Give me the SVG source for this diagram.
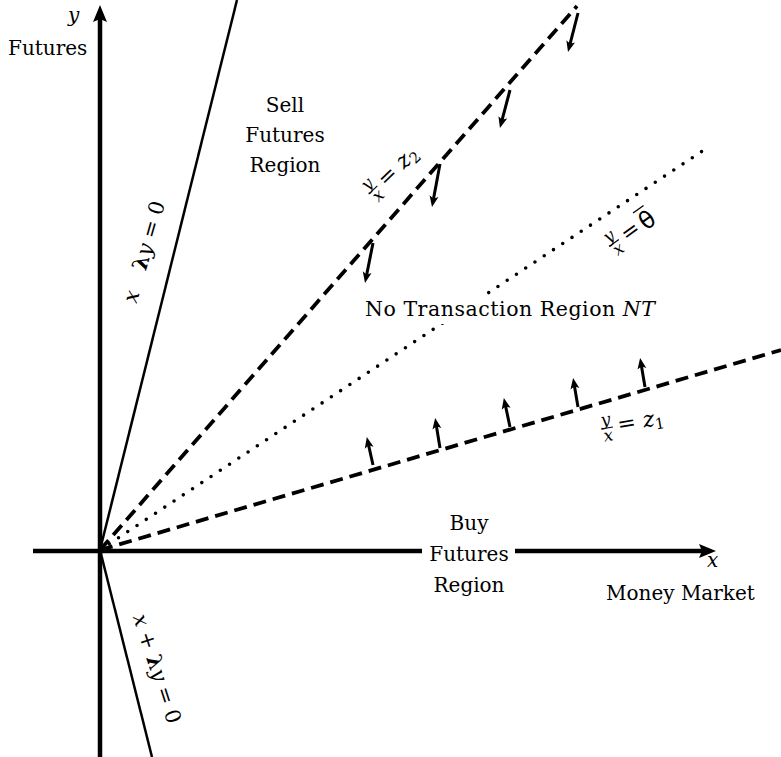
<svg xmlns="http://www.w3.org/2000/svg" width="781" height="757" viewBox="0 0 781 757">
<style>
text{font-family:"DejaVu Serif","Liberation Serif",serif;font-size:20px;fill:#000}
.it{font-style:italic}
.c{text-anchor:middle}
.ax{stroke:#000;stroke-width:4.5;fill:none}
.sol{stroke:#000;stroke-width:2.5;fill:none}
.dash{stroke:#000;stroke-width:3.8;fill:none;stroke-dasharray:13 7}
.dot{stroke:#000;stroke-width:3.6;fill:none;stroke-dasharray:0 11.1;stroke-linecap:round}
.arr{stroke:#000;stroke-width:3;fill:none;marker-end:url(#ah)}
.fr{font-size:17px;font-style:italic}
.eq{font-size:22px}
.bar{stroke:#000;stroke-width:1.1}
</style>
<defs>
<marker id="ah" markerUnits="userSpaceOnUse" markerWidth="12" markerHeight="10" refX="5" refY="4.5" orient="auto" viewBox="0 0 12 9">
<path d="M0,0 L11,4.5 L0,9 L2.5,4.5 Z" fill="#000"/>
</marker>
</defs>
<rect width="781" height="757" fill="#fff"/>
<g id="connectors">
<line class="ax" x1="100" y1="757" x2="100" y2="18"/>
<path d="M100,5 L107,22 L100,19 L93,22 Z" fill="#000"/>
<line class="ax" x1="33" y1="551" x2="702" y2="551"/>
<path d="M716,551 L699,544 L702,551 L699,558 Z" fill="#000"/>
<line class="sol" x1="100" y1="550" x2="237" y2="0"/>
<line class="sol" x1="100" y1="550" x2="152" y2="757"/>
<line class="dash" x1="100" y1="550" x2="577" y2="6"/>
<line class="dot" x1="100" y1="550" x2="710" y2="146"/>
<line class="dash" x1="100" y1="550" x2="781" y2="350"/>
<line class="arr" x1="373" y1="465" x2="368.1" y2="442.9"/>
<line class="arr" x1="440" y1="448" x2="436.1" y2="423.9"/>
<line class="arr" x1="510" y1="427" x2="505.1" y2="403.9"/>
<line class="arr" x1="578" y1="407" x2="574.1" y2="383.9"/>
<line class="arr" x1="645" y1="387" x2="641.1" y2="363.9"/>
<line class="arr" x1="578" y1="13" x2="569.5" y2="46.2"/>
<line class="arr" x1="510" y1="90" x2="501.5" y2="122.2"/>
<line class="arr" x1="440" y1="164" x2="433.1" y2="201.1"/>
<line class="arr" x1="373" y1="243" x2="366.2" y2="277.1"/>
</g>
<g id="y-axis-label">
<text class="it" x="68" y="22">y</text>
<text x="8" y="55">Futures</text>
</g>
<g id="x-axis-label">
<text class="it" x="707" y="567">x</text>
<text x="606" y="600">Money Market</text>
</g>
<g id="sell-region">
<text class="c" x="285" y="112">Sell</text>
<text class="c" x="285" y="142">Futures</text>
<text class="c" x="285" y="172">Region</text>
</g>
<g id="buy-region">
<rect x="422" y="540" width="93" height="20" fill="#fff"/>
<text class="c" x="469" y="530">Buy</text>
<text class="c" x="469" y="561">Futures</text>
<text class="c" x="469" y="592">Region</text>
</g>
<g id="nt-region">
<rect x="360" y="297" width="300" height="27" fill="#fff"/>
<text x="365" y="316" textLength="290" style="font-size:20.5px">No Transaction Region <tspan class="it">NT</tspan></text>
</g>
<g id="line-upper-label" transform="translate(136.4,304) rotate(-74)">
<text style="font-size:21px"><tspan class="it">x</tspan><tspan dx="22" font-weight="bold">λ</tspan><tspan class="it">y</tspan> = 0</text>
</g>
<g id="line-lower-label" transform="translate(132.7,616.7) rotate(72)">
<text style="font-size:21px"><tspan class="it">x</tspan> + <tspan font-weight="bold">λ</tspan><tspan class="it">y</tspan> = 0</text>
</g>
<g id="z2-label" transform="translate(373,190) rotate(-44)">
<text class="fr c" x="0" y="-3">y</text>
<line class="bar" x1="-6" y1="0" x2="6" y2="0"/>
<text class="fr c" x="0" y="13">x</text>
<text class="eq" x="11" y="7">= <tspan class="it">z</tspan><tspan font-size="15" dy="4">2</tspan></text>
</g>
<g id="theta-label" transform="translate(614,243) rotate(-36)">
<text class="fr c" x="0" y="-3">y</text>
<line class="bar" x1="-6" y1="0" x2="6" y2="0"/>
<text class="fr c" x="0" y="13">x</text>
<text class="eq" x="11" y="7">=</text>
<text x="33" y="9" style="font-family:'DejaVu Sans',sans-serif;font-size:24px">θ</text>
<line x1="33" y1="-13" x2="46" y2="-13" stroke="#000" stroke-width="1.3"/>
</g>
<g id="z1-label" transform="translate(607,428) rotate(-10)">
<text class="fr c" x="0" y="-3">y</text>
<line class="bar" x1="-6" y1="0" x2="6" y2="0"/>
<text class="fr c" x="0" y="13">x</text>
<text class="eq" x="11" y="6">= <tspan class="it">z</tspan><tspan font-size="15" dy="4">1</tspan></text>
</g>
</svg>
